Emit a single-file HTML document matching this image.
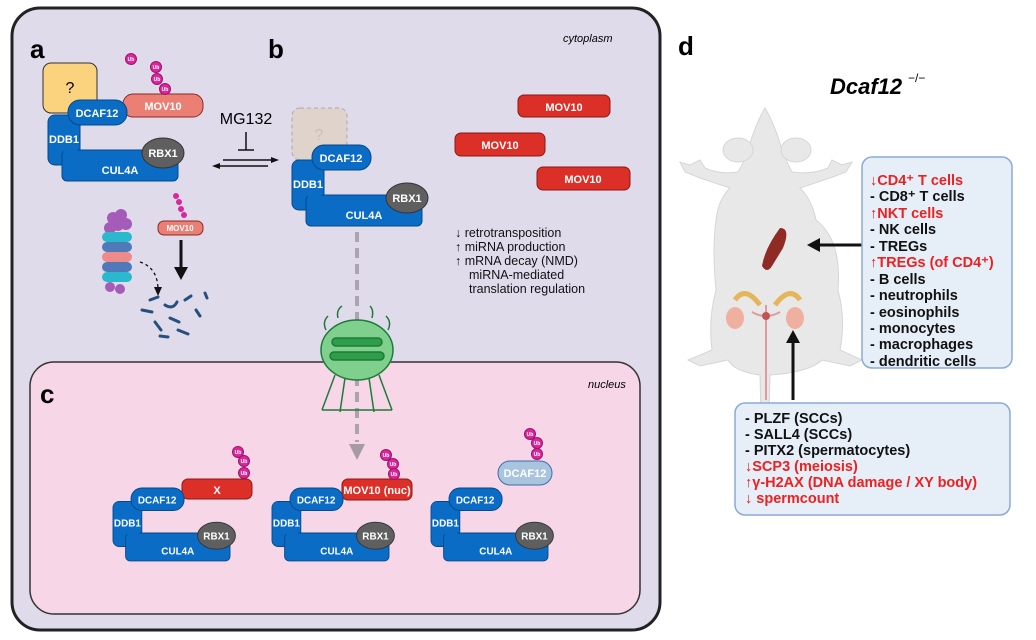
<!DOCTYPE html>
<html><head><meta charset="utf-8"><style>
body{margin:0;background:#fff;}
svg{display:block;font-family:"Liberation Sans",sans-serif;}
.w{fill:#fff;font-weight:bold;font-size:11px;text-anchor:middle;}
</style></head><body>
<svg width="1036" height="640" viewBox="0 0 1036 640" xmlns="http://www.w3.org/2000/svg">
<defs>
<g id="cx">
<rect x="0" y="15" width="32" height="50" rx="7" fill="#0a6cc4" stroke="#04498a"/>
<rect x="14" y="50" width="116" height="31" rx="5" fill="#0a6cc4" stroke="#04498a"/>
<rect x="0.5" y="15.5" width="31" height="36" rx="6" fill="#0a6cc4"/>
<rect x="20" y="0" width="59" height="25" rx="12" fill="#0a6cc4" stroke="#04498a"/>
<ellipse cx="115" cy="53" rx="21" ry="15" fill="#5f5f5f" stroke="#333"/>
<text class="w" x="49" y="17">DCAF12</text>
<text class="w" x="16" y="43">DDB1</text>
<text class="w" x="72" y="74">CUL4A</text>
<text class="w" x="115" y="57">RBX1</text>
</g>
<g id="ub"><circle r="5.5" fill="#d8289a" stroke="#a0106e"/><text x="0" y="2" font-size="5" fill="#fff" text-anchor="middle" font-weight="bold">Ub</text></g>
</defs>
<rect x="12" y="8" width="648" height="622" rx="28" fill="#dfdbeb" stroke="#222" stroke-width="3"/>
<rect x="30" y="362" width="610" height="252" rx="24" fill="#f7d6e8" stroke="#333" stroke-width="1.5"/>
<text x="30" y="58" font-size="26" font-weight="bold">a</text>
<text x="268" y="58" font-size="26" font-weight="bold">b</text>
<text x="40" y="403" font-size="26" font-weight="bold">c</text>
<text x="678" y="55" font-size="26" font-weight="bold">d</text>
<text x="563" y="42" font-size="11" font-style="italic">cytoplasm</text>
<text x="588" y="388" font-size="11" font-style="italic">nucleus</text>
<rect x="43" y="63" width="54" height="50" rx="8" fill="#fbd27e" stroke="#333"/>
<text x="70" y="93" font-size="16" text-anchor="middle">?</text>
<rect x="123" y="94" width="80" height="23" rx="10" fill="#ec7f74" stroke="#8a2a25"/>
<text class="w" x="163" y="110">MOV10</text>
<use href="#ub" x="131" y="59"/><use href="#ub" x="156" y="67"/><use href="#ub" x="157" y="79"/><use href="#ub" x="165" y="89"/>
<use href="#cx" x="48" y="100"/>
<text x="246" y="124" font-size="16" text-anchor="middle">MG132</text>
<line x1="246" y1="132" x2="246" y2="150" stroke="#111" stroke-width="1.5"/><line x1="238" y1="150" x2="254" y2="150" stroke="#111" stroke-width="1.5"/>
<line x1="223" y1="160" x2="275" y2="160" stroke="#111" stroke-width="1.5"/><polygon points="279,160 271,157 271,163" fill="#111"/>
<line x1="216" y1="166" x2="268" y2="166" stroke="#111" stroke-width="1.5"/><polygon points="212,166 220,163 220,169" fill="#111"/>
<g>
<circle cx="113" cy="218" r="6" fill="#a45cb8"/><circle cx="121" cy="215" r="6" fill="#a45cb8"/><circle cx="118" cy="225" r="6" fill="#a45cb8"/><circle cx="126" cy="224" r="6" fill="#a45cb8"/><circle cx="110" cy="228" r="6" fill="#a45cb8"/>
<rect x="102" y="232" width="30" height="10" rx="5" fill="#29b8cc"/>
<rect x="102" y="242" width="30" height="10" rx="5" fill="#4f79b8"/>
<rect x="102" y="252" width="30" height="10" rx="5" fill="#ef8a8a"/>
<rect x="102" y="262" width="30" height="10" rx="5" fill="#4f79b8"/>
<rect x="102" y="272" width="30" height="10" rx="5" fill="#29b8cc"/>
<circle cx="110" cy="287" r="5" fill="#a45cb8"/><circle cx="120" cy="289" r="5" fill="#a45cb8"/>
</g>
<rect x="158" y="221" width="45" height="14" rx="6" fill="#ec7f74" stroke="#8a2a25"/>
<text x="180" y="231" font-size="8" fill="#fff" text-anchor="middle" font-weight="bold">MOV10</text>
<circle cx="176" cy="196" r="3" fill="#d8289a"/><circle cx="179" cy="202" r="3" fill="#d8289a"/><circle cx="181" cy="209" r="3" fill="#d8289a"/><circle cx="184" cy="215" r="3" fill="#d8289a"/>
<line x1="181" y1="240" x2="181" y2="270" stroke="#111" stroke-width="3"/><polygon points="181,280 174,267 188,267" fill="#111"/>
<path d="M140,262 Q158,268 158,290" fill="none" stroke="#111" stroke-width="1.3" stroke-dasharray="3,3"/><polygon points="158,296 154,287 162,287" fill="#111"/>
<g stroke="#244f7e" stroke-width="3" fill="none" stroke-linecap="round">
<path d="M150,300 l8,-3"/><path d="M165,305 q8,5 12,-3"/><path d="M142,310 l10,2"/><path d="M170,318 l9,4"/><path d="M155,322 l6,8"/><path d="M185,300 l6,-4"/><path d="M196,310 l4,6"/><path d="M160,336 l8,1"/><path d="M178,330 l10,4"/><path d="M205,293 l2,5"/>
</g>
<rect x="292" y="108" width="55" height="52" rx="8" fill="#e0d3cb" stroke="#aaa" stroke-dasharray="4,3"/>
<text x="319" y="140" font-size="16" fill="#c8bfb8" text-anchor="middle">?</text>
<use href="#cx" x="292" y="145"/>
<rect x="518" y="95" width="92" height="22" rx="6" fill="#dc2f27" stroke="#8a1a14"/><text class="w" x="564" y="111" font-size="12">MOV10</text>
<rect x="455" y="133" width="90" height="23" rx="6" fill="#dc2f27" stroke="#8a1a14"/><text class="w" x="500" y="149" font-size="12">MOV10</text>
<rect x="537" y="167" width="93" height="23" rx="6" fill="#dc2f27" stroke="#8a1a14"/><text class="w" x="583" y="183" font-size="12">MOV10</text>
<g font-size="12.5" fill="#111">
<text x="455" y="237">↓ retrotransposition</text>
<text x="455" y="251">↑ miRNA production</text>
<text x="455" y="265">↑ mRNA decay (NMD)</text>
<text x="469" y="279">miRNA-mediated</text>
<text x="469" y="293">translation regulation</text>
</g>
<line x1="357" y1="232" x2="357" y2="442" stroke="#aaa3b0" stroke-width="4" stroke-dasharray="10,6"/>
<polygon points="357,460 349,444 365,444" fill="#a69aa6"/>
<g stroke="#1e7a3a" stroke-width="1.5">
<path d="M326,330 q-4,-8 2,-14 M338,318 q-2,-8 4,-12 M372,318 q2,-8 -2,-12 M388,330 q4,-8 -2,-14" fill="none"/>
<ellipse cx="357" cy="350" rx="36" ry="30" fill="#7fd08c"/>
<rect x="332" y="338" width="50" height="8" rx="4" fill="#2f9e4a"/>
<rect x="330" y="352" width="54" height="8" rx="4" fill="#2f9e4a"/>
<path d="M335,375 L322,410 M345,378 L340,412 M369,378 L374,412 M379,375 L392,410 M322,410 L392,410" fill="none"/>
</g>
<rect x="182" y="479" width="70" height="20" rx="6" fill="#dc2f27" stroke="#8a1a14"/><text class="w" x="217" y="494">X</text>
<use href="#ub" x="238" y="452"/><use href="#ub" x="244" y="461"/><use href="#ub" x="244" y="473"/>
<g transform="translate(113,488) scale(0.9)"><use href="#cx"/></g>
<rect x="342" y="479" width="70" height="21" rx="6" fill="#dc2f27" stroke="#8a1a14"/><text class="w" x="377" y="494" font-size="10">MOV10 (nuc)</text>
<use href="#ub" x="386" y="455"/><use href="#ub" x="393" y="464"/><use href="#ub" x="394" y="474"/>
<g transform="translate(272,488) scale(0.9)"><use href="#cx"/></g>
<rect x="498" y="461" width="54" height="24" rx="12" fill="#a9c4de" stroke="#3c6ea8"/><text class="w" x="525" y="477">DCAF12</text>
<use href="#ub" x="530" y="434"/><use href="#ub" x="537" y="443"/><use href="#ub" x="537" y="454"/>
<g transform="translate(431,488) scale(0.9)"><use href="#cx"/></g>
<text x="830" y="94" font-size="22" font-weight="bold" font-style="italic">Dcaf12</text>
<text x="908" y="82" font-size="12">−/−</text>
<!-- mouse -->
<g fill="#e8e8e8" stroke="#d6d6d6">
<path d="M768,460 L762,460 L760,375 Q735,372 728,360 L700,366 L688,360 L712,350 Q708,320 716,290 Q712,250 716,220 Q718,200 730,188 L700,178 L685,172 L680,162 L690,165 L700,160 L705,168 Q720,175 738,172 Q745,160 748,150 Q755,125 765,108 Q775,125 782,150 Q786,160 792,172 Q812,175 828,168 L832,160 L842,165 L852,162 L846,172 L830,178 L800,188 Q812,200 816,220 Q842,240 838,290 Q846,320 840,350 L862,360 L850,366 L822,360 Q810,372 770,375 Z"/>
<ellipse cx="738" cy="150" rx="15" ry="12"/><ellipse cx="796" cy="150" rx="15" ry="12"/>
</g>
<path d="M783,248 q8,-20 -3,-20 q-15,20 -18,38 q5,8 10,0 Z" fill="#8f2a24"/>
<path d="M735,300 q10,-15 25,5 M800,300 q-10,-15 -25,5" fill="none" stroke="#e5b55a" stroke-width="5"/>
<path d="M766,305 L766,400 M752,312 q14,8 28,0" fill="none" stroke="#e19a9a" stroke-width="2"/>
<circle cx="766" cy="316" r="4" fill="#c0564f"/>
<ellipse cx="735" cy="318" rx="9" ry="11" fill="#efb0a0"/><ellipse cx="795" cy="318" rx="9" ry="11" fill="#efb0a0"/>
<line x1="862" y1="245" x2="815" y2="245" stroke="#111" stroke-width="3"/><polygon points="807,245 820,238 820,252" fill="#111"/>
<line x1="793" y1="400" x2="793" y2="340" stroke="#111" stroke-width="3"/><polygon points="793,330 786,343 800,343" fill="#111"/>
<rect x="862" y="157" width="150" height="211" rx="10" fill="#e6eef8" stroke="#8aaad8" stroke-width="1.5"/>
<g font-size="14.5" font-weight="bold" fill="#111">
<text x="870" y="185" fill="#ee2020">↓CD4⁺ T cells</text>
<text x="870" y="201">- CD8⁺ T cells</text>
<text x="870" y="218" fill="#ee2020">↑NKT cells</text>
<text x="870" y="234">- NK cells</text>
<text x="870" y="251">- TREGs</text>
<text x="870" y="267" fill="#ee2020">↑TREGs (of CD4⁺)</text>
<text x="870" y="284">- B cells</text>
<text x="870" y="300">- neutrophils</text>
<text x="870" y="317">- eosinophils</text>
<text x="870" y="333">- monocytes</text>
<text x="870" y="349">- macrophages</text>
<text x="870" y="366">- dendritic cells</text>
</g>
<rect x="735" y="403" width="275" height="112" rx="10" fill="#e6eef8" stroke="#8aaad8" stroke-width="1.5"/>
<g font-size="14.5" font-weight="bold" fill="#111">
<text x="745" y="423">- PLZF (SCCs)</text>
<text x="745" y="439">- SALL4 (SCCs)</text>
<text x="745" y="455">- PITX2  (spermatocytes)</text>
<text x="745" y="471" fill="#ee2020">↓SCP3 (meiosis)</text>
<text x="745" y="487" fill="#ee2020">↑γ-H2AX (DNA damage / XY body)</text>
<text x="745" y="503" fill="#ee2020">↓ spermcount</text>
</g>
</svg>
</body></html>
